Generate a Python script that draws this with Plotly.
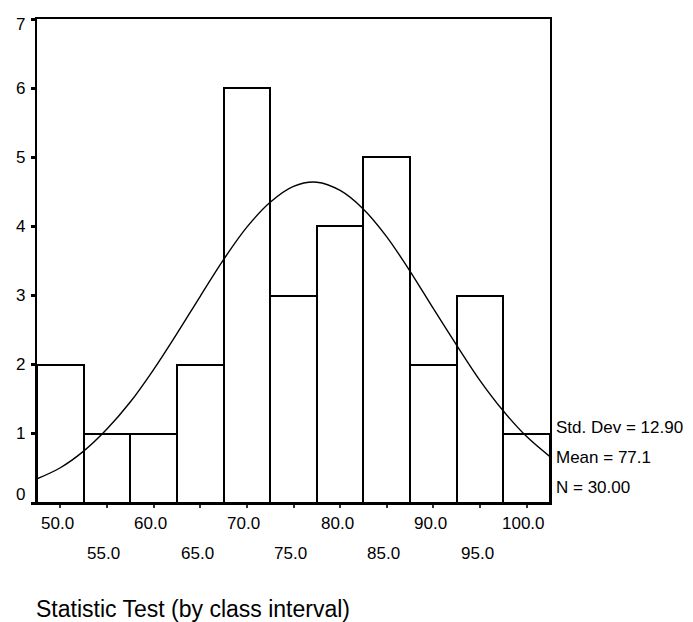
import plotly.graph_objects as go

# Histogram data (bin centres, counts)
bin_centers = [50, 55, 60, 65, 70, 75, 80, 85, 90, 95, 100]
counts = [2, 1, 1, 2, 6, 3, 4, 5, 2, 3, 1]

# Normal curve
curve_x = [47.5, 50, 52.5, 55, 57.5, 60, 62.5, 65, 67.5, 70, 72.5, 75,
           77.5, 80, 82.5, 85, 87.5, 90, 92.5, 95, 97.5, 100, 102.5]
curve_y = [0.35, 0.51, 0.75, 1.07, 1.46, 1.93, 2.45, 2.99, 3.52, 3.99, 4.35, 4.58,
           4.64, 4.52, 4.25, 3.85, 3.35, 2.81, 2.28, 1.77, 1.33, 0.96, 0.67]

upper_labels = [50, 60, 70, 80, 90, 100]
lower_labels = [55, 65, 75, 85, 95]
y_ticks = [0, 1, 2, 3, 4, 5, 6, 7]

stats_text = ["Std. Dev = 12.90", "Mean = 77.1", "N = 30.00"]
stats_y = [1.09, 0.66, 0.22]

title_text = "Statistic Test (by class interval)"

FONT = "Liberation Sans, Arial, sans-serif"

fig = go.Figure()
fig.add_trace(go.Bar(
    x=bin_centers, y=counts, width=5,
    marker=dict(color="white", line=dict(color="black", width=2)),
    showlegend=False, hoverinfo="skip",
))
fig.add_trace(go.Scatter(
    x=curve_x, y=curve_y, mode="lines",
    line=dict(color="black", width=1.4, shape="spline"),
    showlegend=False, hoverinfo="skip",
))

annotations = []
for v in upper_labels:
    annotations.append(dict(x=v, y=0, xref="x", yref="paper", text=f"{v:.1f}",
                            showarrow=False, xanchor="center", yanchor="middle",
                            yshift=-20, xshift=-3,
                            font=dict(family=FONT, size=17, color="black")))
for v in lower_labels:
    annotations.append(dict(x=v, y=0, xref="x", yref="paper", text=f"{v:.1f}",
                            showarrow=False, xanchor="center", yanchor="middle",
                            yshift=-50, xshift=-3,
                            font=dict(family=FONT, size=17, color="black")))
for v in y_ticks:
    shift = 9 if v == 0 else (-5 if v == 7 else 0)
    annotations.append(dict(x=0, y=v, xref="paper", yref="y", text=str(v),
                            showarrow=False, xanchor="right", yanchor="middle",
                            xshift=-10, yshift=shift,
                            font=dict(family=FONT, size=17, color="black")))
for t, yv in zip(stats_text, stats_y):
    annotations.append(dict(x=1, y=yv, xref="paper", yref="y", text=t,
                            showarrow=False, xanchor="left", yanchor="middle",
                            xshift=4,
                            font=dict(family=FONT, size=17, color="black")))
annotations.append(dict(x=0, y=0, xref="paper", yref="paper", text=title_text,
                        showarrow=False, xanchor="left", yanchor="middle",
                        yshift=-106, xshift=-3,
                        font=dict(family=FONT, size=23, color="black")))

fig.update_layout(
    width=685, height=614,
    margin=dict(l=29, r=143, t=9, b=119),
    paper_bgcolor="white", plot_bgcolor="white",
    bargap=0,
    annotations=annotations,
    xaxis=dict(range=[47.5, 102.5], showgrid=False, zeroline=False,
               showline=True, mirror=True, linecolor="black", linewidth=2,
               tickvals=bin_centers, ticks="outside", ticklen=3, tickwidth=2,
               tickcolor="#333333", showticklabels=False),
    yaxis=dict(range=[0, 7], showgrid=False, zeroline=False,
               showline=True, mirror=True, linecolor="black", linewidth=2,
               tickvals=y_ticks, ticks="outside", ticklen=4, tickwidth=3,
               tickcolor="black", showticklabels=False),
)

fig.write_html("out.html")
